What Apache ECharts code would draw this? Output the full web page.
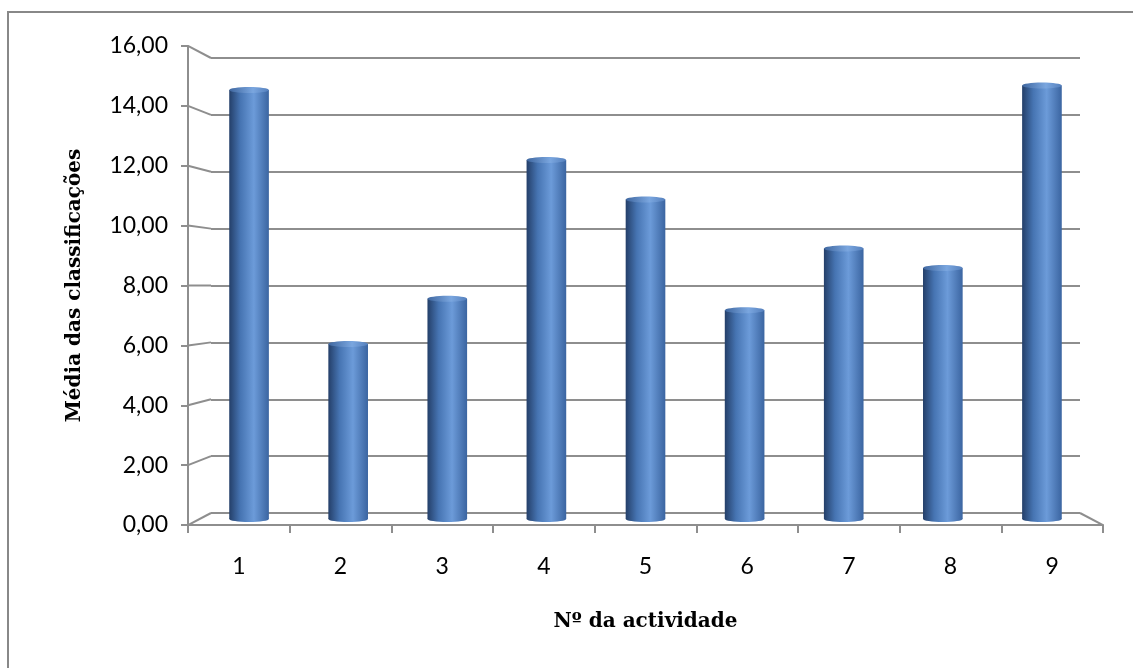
<!DOCTYPE html>
<html>
<head>
<meta charset="utf-8">
<script src="https://cdn.jsdelivr.net/npm/echarts@6/dist/echarts.min.js"></script>
<style>
  html, body { margin: 0; padding: 0; background: #fff; }
  #chart { width: 1133px; height: 668px; }
</style>
</head>
<body>
<div id="chart"></div>
<script>
// Activity numbers and average grade per activity
const categories = ['1', '2', '3', '4', '5', '6', '7', '8', '9'];
const averages = [14.7, 6.0, 7.55, 12.3, 10.95, 7.15, 9.27, 8.6, 14.85];
const gridValues = [0, 2, 4, 6, 8, 10, 12, 14, 16];

const yTitle = 'Média das classificações';
const xTitle = 'Nº da actividade';

// Layout of the pseudo-3D box: back wall, bar plane (mid depth), front edge
const BACK = { left: 211, top: 58, width: 869, height: 455 };
const MID = { left: 199.5, top: 52, width: 892, height: 467 };
const FRONT = { left: 188, top: 46, width: 915, height: 479 };
const DEPTH_SCALE = FRONT.width / BACK.width;

const lineColor = '#8e8e8e';
const chart = echarts.init(document.getElementById('chart'), null, { renderer: 'canvas' });

function toFront(cs, x, y) {
  const cx = cs.x + cs.width / 2, cy = cs.y + cs.height / 2;
  return [cx + (x - cx) * DEPTH_SCALE, cy + (y - cy) * DEPTH_SCALE];
}

// Slanted side-wall lines joining each back gridline to the front value axis,
// plus the right floor edge
function renderWall(params, api) {
  const cs = params.coordSys;
  const v = api.value(0);
  const back = api.coord([0, v]);
  const bx = cs.x;
  const by = back[1];
  const f = toFront(cs, bx, by);
  const children = [{
    type: 'line',
    shape: { x1: f[0], y1: f[1], x2: bx, y2: by },
    style: { stroke: lineColor, lineWidth: 2 }
  }];
  if (v === 0) {
    const rx = cs.x + cs.width;
    const rf = toFront(cs, rx, by);
    children.push({
      type: 'line',
      shape: { x1: rx, y1: by, x2: rf[0], y2: rf[1] },
      style: { stroke: lineColor, lineWidth: 2 }
    });
  }
  return { type: 'group', children: children };
}

// Cylinder-shaped bars
function renderCylinder(params, api) {
  const idx = api.value(0);
  const val = api.value(1);
  const top = api.coord([idx, val]);
  const base = api.coord([idx, 0]);
  const w = api.size([1, 0])[0] * 0.40;
  const x = top[0] - w / 2;
  const ry = 3;
  const bodyFill = new echarts.graphic.LinearGradient(0, 0, 1, 0, [
    { offset: 0, color: '#243f69' },
    { offset: 0.28, color: '#4674b2' },
    { offset: 0.62, color: '#6c9bd9' },
    { offset: 1, color: '#3b65a1' }
  ]);
  const capFill = new echarts.graphic.LinearGradient(0, 0, 1, 0, [
    { offset: 0, color: '#3f67a0' },
    { offset: 0.6, color: '#7aa6df' },
    { offset: 1, color: '#5580bd' }
  ]);
  return {
    type: 'group',
    children: [
      { type: 'rect', shape: { x: x, y: top[1], width: w, height: base[1] - top[1] }, style: { fill: bodyFill } },
      { type: 'ellipse', shape: { cx: top[0], cy: base[1], rx: w / 2, ry: ry }, style: { fill: bodyFill } },
      { type: 'ellipse', shape: { cx: top[0], cy: top[1], rx: w / 2, ry: ry }, style: { fill: capFill } }
    ]
  };
}

const hidden = { show: false };
const titleStyle = { fontFamily: 'DejaVu Serif', fontWeight: 'bold', fontSize: 20, color: '#000' };

const option = {
  backgroundColor: '#fff',
  animation: false,
  grid: [
    Object.assign({}, BACK, { containLabel: false }),
    Object.assign({}, FRONT, { containLabel: false }),
    Object.assign({}, MID, { containLabel: false })
  ],
  xAxis: [
    { gridIndex: 0, type: 'category', data: categories, axisLine: hidden, axisTick: hidden, axisLabel: hidden },
    {
      gridIndex: 1, type: 'category', data: categories,
      axisLine: { show: true, lineStyle: { color: lineColor, width: 2 } },
      axisTick: { show: true, length: 8, lineStyle: { color: lineColor, width: 2 } },
      axisLabel: { margin: 30, color: '#000', fontFamily: 'Lato', fontSize: 23 },
      name: xTitle, nameLocation: 'middle', nameGap: 87,
      nameTextStyle: titleStyle
    },
    { gridIndex: 2, type: 'category', data: categories, axisLine: hidden, axisTick: hidden, axisLabel: hidden }
  ],
  yAxis: [
    {
      gridIndex: 0, type: 'value', min: 0, max: 16, interval: 2,
      axisLine: hidden, axisTick: hidden, axisLabel: hidden,
      splitLine: { show: true, lineStyle: { color: lineColor, width: 2 } }
    },
    {
      gridIndex: 1, type: 'value', min: 0, max: 16, interval: 2,
      axisLine: { show: true, lineStyle: { color: lineColor, width: 2 } },
      axisTick: { show: true, length: 7, lineStyle: { color: lineColor, width: 2 } },
      splitLine: hidden,
      axisLabel: {
        margin: 20, color: '#000', fontFamily: 'Lato', fontSize: 23,
        formatter: v => v.toFixed(2).replace('.', ',')
      },
      name: yTitle, nameLocation: 'middle', nameGap: 103, nameRotate: 90,
      nameTextStyle: titleStyle
    },
    { gridIndex: 2, type: 'value', min: 0, max: 16, interval: 2, axisLine: hidden, axisTick: hidden, axisLabel: hidden, splitLine: hidden }
  ],
  graphic: [{
    type: 'rect', z: -1,
    shape: { x: 8, y: 12, width: 1140, height: 680 },
    style: { fill: 'none', stroke: '#888', lineWidth: 2 }
  }],
  series: [
    {
      type: 'custom', xAxisIndex: 0, yAxisIndex: 0, z: 1,
      renderItem: renderWall,
      data: gridValues.map(v => [v])
    },
    {
      type: 'custom', xAxisIndex: 2, yAxisIndex: 2, z: 5,
      renderItem: renderCylinder,
      data: averages.map((v, i) => [i, v])
    }
  ]
};

chart.setOption(option);
</script>
</body>
</html>
